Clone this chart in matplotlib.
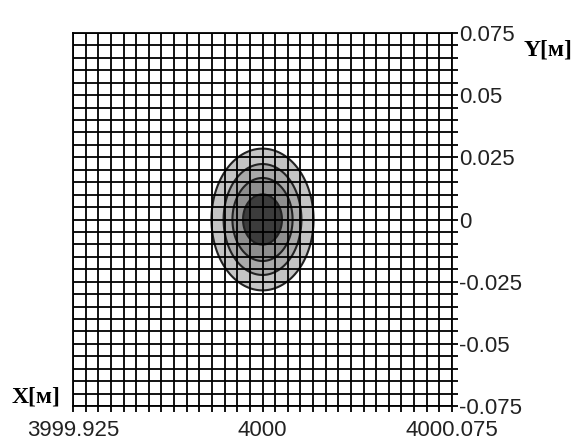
import numpy as np
import matplotlib
matplotlib.use("Agg")
import matplotlib.pyplot as plt
from matplotlib.ticker import MultipleLocator, FixedLocator

# Ejes (metros)
x_center = 4000.0
y_center = 0.0
x_ticks = [3999.925, 4000.0, 4000.075]
x_tick_labels = ["3999.925", "4000", "4000.075"]
y_ticks = [0.075, 0.05, 0.025, 0.0, -0.025, -0.05, -0.075]
y_tick_labels = ["0.075", "0.05", "0.025", "0", "-0.025", "-0.05", "-0.075"]
grid_step = 0.005

# Semiejes de las isolíneas (de afuera hacia adentro)
semi_x = [0.0202, 0.0154, 0.0119, 0.0077]
semi_y = [0.0285, 0.0223, 0.0167, 0.0101]
fill_colors = ["#c4c4c4", "#a9a9a9", "#8e8e8e", "#3c3c3c"]

plt.rcParams["font.family"] = ["Liberation Sans", "DejaVu Sans"]

fig = plt.figure(figsize=(5.79, 4.46), dpi=100)
ax = fig.add_axes([73 / 579, 40 / 446, 379 / 579, 373 / 446])

# Campo suave cuya isolínea k coincide con la elipse k
xs = np.linspace(x_ticks[0], x_ticks[-1], 800)
ys = np.linspace(y_ticks[-1], y_ticks[0], 800)
X, Y = np.meshgrid(xs, ys)
field = np.zeros_like(X)
for hx, hy in zip(semi_x, semi_y):
    s = np.sqrt(((X - x_center) / hx) ** 2 + ((Y - y_center) / hy) ** 2)
    field += 1.0 / (1.0 + np.exp(-(1.0 - s) * 60))

levels = [0.5, 1.5, 2.5, 3.5, 4.5]
ax.contourf(X, Y, field, levels=levels, colors=fill_colors, zorder=1)
ax.contour(X, Y, field, levels=levels[:-1], colors="#222222",
           linewidths=1.5, zorder=2)

ax.set_xlim(x_ticks[0], x_ticks[-1])
ax.set_ylim(y_ticks[-1], y_ticks[0])

# Cuadrícula
ax.xaxis.set_minor_locator(MultipleLocator(grid_step))
ax.yaxis.set_minor_locator(MultipleLocator(grid_step))
ax.grid(True, which="both", color="black", linewidth=1.3, zorder=3)
ax.set_axisbelow(False)

ax.xaxis.set_major_locator(FixedLocator(x_ticks))
ax.set_xticklabels(x_tick_labels)
ax.yaxis.tick_right()
ax.yaxis.set_major_locator(FixedLocator(y_ticks))
ax.set_yticklabels(y_tick_labels)
ax.tick_params(axis="both", which="both", direction="out", length=4,
               width=1.3, color="black", labelsize=16, labelcolor="#222222")
ax.tick_params(axis="x", pad=6)
ax.tick_params(axis="y", pad=1)

for side in ["top", "left", "bottom", "right"]:
    ax.spines[side].set_linewidth(1.3)

fig.text(524 / 579, 1 - 50 / 446, "Y[м]", family="Liberation Serif",
         fontweight="bold", fontsize=17, va="center", ha="left")
fig.text(12 / 579, 1 - 397 / 446, "X[м]", family="Liberation Serif",
         fontweight="bold", fontsize=17, va="center", ha="left")

plt.savefig("out.png", dpi=100)
